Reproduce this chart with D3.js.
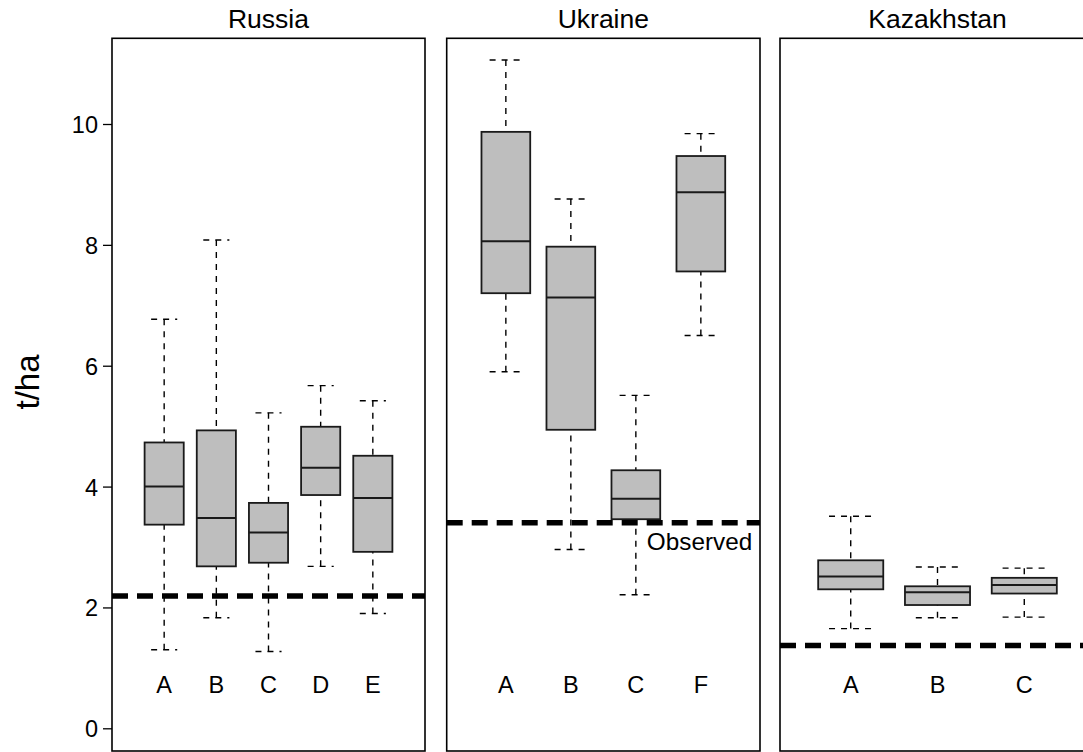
<!DOCTYPE html>
<html>
<head>
<meta charset="utf-8">
<script src="https://cdn.jsdelivr.net/npm/d3@7"></script>
<style>
  html, body { margin: 0; padding: 0; background: #ffffff; }
  svg { display: block; font-family: "Liberation Sans", Arial, sans-serif; }
</style>
</head>
<body>
<svg id="chart" width="1083" height="752"></svg>
<script>
// ---- data ----
const panelTitles = ["Russia", "Ukraine", "Kazakhstan"];

const russiaCategories = ["A", "B", "C", "D", "E"];
const russiaLower  = [1.30, 1.83, 1.27, 2.68, 1.90];
const russiaQ1     = [3.37, 2.68, 2.74, 3.86, 2.92];
const russiaMedian = [4.00, 3.48, 3.24, 4.31, 3.81];
const russiaQ3     = [4.73, 4.93, 3.73, 4.99, 4.51];
const russiaUpper  = [6.77, 8.08, 5.22, 5.67, 5.42];

const ukraineCategories = ["A", "B", "C", "F"];
const ukraineLower  = [5.90, 2.96, 2.21, 6.50];
const ukraineQ1     = [7.20, 4.94, 3.46, 7.56];
const ukraineMedian = [8.06, 7.13, 3.80, 8.87];
const ukraineQ3     = [9.87, 7.97, 4.27, 9.47];
const ukraineUpper  = [11.06, 8.76, 5.51, 9.84];

const kazakhstanCategories = ["A", "B", "C"];
const kazakhstanLower  = [1.65, 1.83, 1.84];
const kazakhstanQ1     = [2.30, 2.04, 2.23];
const kazakhstanMedian = [2.51, 2.25, 2.37];
const kazakhstanQ3     = [2.78, 2.35, 2.49];
const kazakhstanUpper  = [3.51, 2.67, 2.65];

const observedValues = [2.19, 3.40, 1.37];
const observedLabel = "Observed";
const yTicks = [0, 2, 4, 6, 8, 10];
const yLabel = "t/ha";

// ---- layout ----
const svg = d3.select("#chart");
const panelTop = 38.3, panelBottom = 751;
const y = d3.scaleLinear().domain([0, 10]).range([728.3, 124]);

const panels = [
  { title: panelTitles[0], cats: russiaCategories, lo: russiaLower, q1: russiaQ1, med: russiaMedian, q3: russiaQ3, hi: russiaUpper,
    x0: 112, x1: 425, pad: 0.5, obs: observedValues[0] },
  { title: panelTitles[1], cats: ukraineCategories, lo: ukraineLower, q1: ukraineQ1, med: ukraineMedian, q3: ukraineQ3, hi: ukraineUpper,
    x0: 446.7, x1: 760, pad: 0.41, obs: observedValues[1], label: true },
  { title: panelTitles[2], cats: kazakhstanCategories, lo: kazakhstanLower, q1: kazakhstanQ1, med: kazakhstanMedian, q3: kazakhstanQ3, hi: kazakhstanUpper,
    x0: 780, x1: 1095, pad: 0.315, obs: observedValues[2] }
];

const boxW = 0.75, capW = 0.5;

panels.forEach((p, pi) => {
  const n = p.cats.length;
  const x = d3.scaleLinear().domain([0.5 - p.pad, n + 0.5 + p.pad]).range([p.x0, p.x1]);
  const unit = x(1) - x(0);
  const g = svg.append("g");

  const data = p.cats.map((c, i) => ({ cat: c, pos: i + 1, lo: p.lo[i], q1: p.q1[i], med: p.med[i], q3: p.q3[i], hi: p.hi[i] }));

  // whiskers (dashed)
  const wg = g.append("g").attr("stroke", "#000").attr("stroke-width", 1.4).attr("stroke-dasharray", "6,6");
  data.forEach(d => {
    const cx = x(d.pos);
    wg.append("line").attr("x1", cx).attr("x2", cx).attr("y1", y(d.hi)).attr("y2", y(d.q3));
    wg.append("line").attr("x1", cx).attr("x2", cx).attr("y1", y(d.lo)).attr("y2", y(d.q1));
    wg.append("line").attr("x1", x(d.pos - capW / 2)).attr("x2", x(d.pos + capW / 2)).attr("y1", y(d.hi)).attr("y2", y(d.hi));
    wg.append("line").attr("x1", x(d.pos - capW / 2)).attr("x2", x(d.pos + capW / 2)).attr("y1", y(d.lo)).attr("y2", y(d.lo));
  });

  // boxes
  g.selectAll("rect.box").data(data).enter().append("rect")
    .attr("class", "box")
    .attr("x", d => x(d.pos - boxW / 2))
    .attr("width", boxW * unit)
    .attr("y", d => y(d.q3))
    .attr("height", d => y(d.q1) - y(d.q3))
    .attr("fill", "#bebebe")
    .attr("stroke", "#1a1a1a")
    .attr("stroke-width", 1.8);

  g.selectAll("line.med").data(data).enter().append("line")
    .attr("x1", d => x(d.pos - boxW / 2))
    .attr("x2", d => x(d.pos + boxW / 2))
    .attr("y1", d => y(d.med))
    .attr("y2", d => y(d.med))
    .attr("stroke", "#1a1a1a")
    .attr("stroke-width", 2);

  // observed line
  g.append("line")
    .attr("x1", p.x0).attr("x2", p.x1)
    .attr("y1", y(p.obs)).attr("y2", y(p.obs))
    .attr("stroke", "#000").attr("stroke-width", 5.5)
    .attr("stroke-dasharray", "16,9");

  if (p.label) {
    g.append("text")
      .attr("x", x(3) + 11)
      .attr("y", y(p.obs) + 27)
      .attr("font-size", 24.3)
      .attr("fill", "#000")
      .text(observedLabel);
  }

  // category labels
  g.selectAll("text.cat").data(data).enter().append("text")
    .attr("class", "cat")
    .attr("x", d => x(d.pos))
    .attr("y", 692.5)
    .attr("text-anchor", "middle")
    .attr("font-size", 23.5)
    .attr("fill", "#000")
    .text(d => d.cat);

  // frame
  g.append("rect")
    .attr("x", p.x0).attr("y", panelTop)
    .attr("width", p.x1 - p.x0).attr("height", panelBottom - panelTop)
    .attr("fill", "none").attr("stroke", "#000").attr("stroke-width", 1.6);

  // title
  svg.append("text")
    .attr("x", (p.x0 + p.x1) / 2)
    .attr("y", 27.7)
    .attr("text-anchor", "middle")
    .attr("font-size", 26.5)
    .attr("fill", "#000")
    .text(p.title);
});

// y axis
const axis = d3.axisLeft(y).tickValues(yTicks).tickSize(9).tickPadding(5).tickFormat(d3.format("d"));
const ag = svg.append("g").attr("transform", "translate(112,0)").call(axis);
ag.select(".domain").remove();
ag.selectAll(".tick line").attr("stroke", "#000").attr("stroke-width", 1.3);
ag.selectAll(".tick text").attr("font-size", 23.5).attr("fill", "#000")
  .attr("font-family", "'Liberation Sans', Arial, sans-serif").attr("dy", "0.36em");

svg.append("text")
  .attr("transform", "translate(39,382) rotate(-90)")
  .attr("text-anchor", "middle")
  .attr("font-size", 33)
  .attr("fill", "#000")
  .text(yLabel);
</script>
</body>
</html>
